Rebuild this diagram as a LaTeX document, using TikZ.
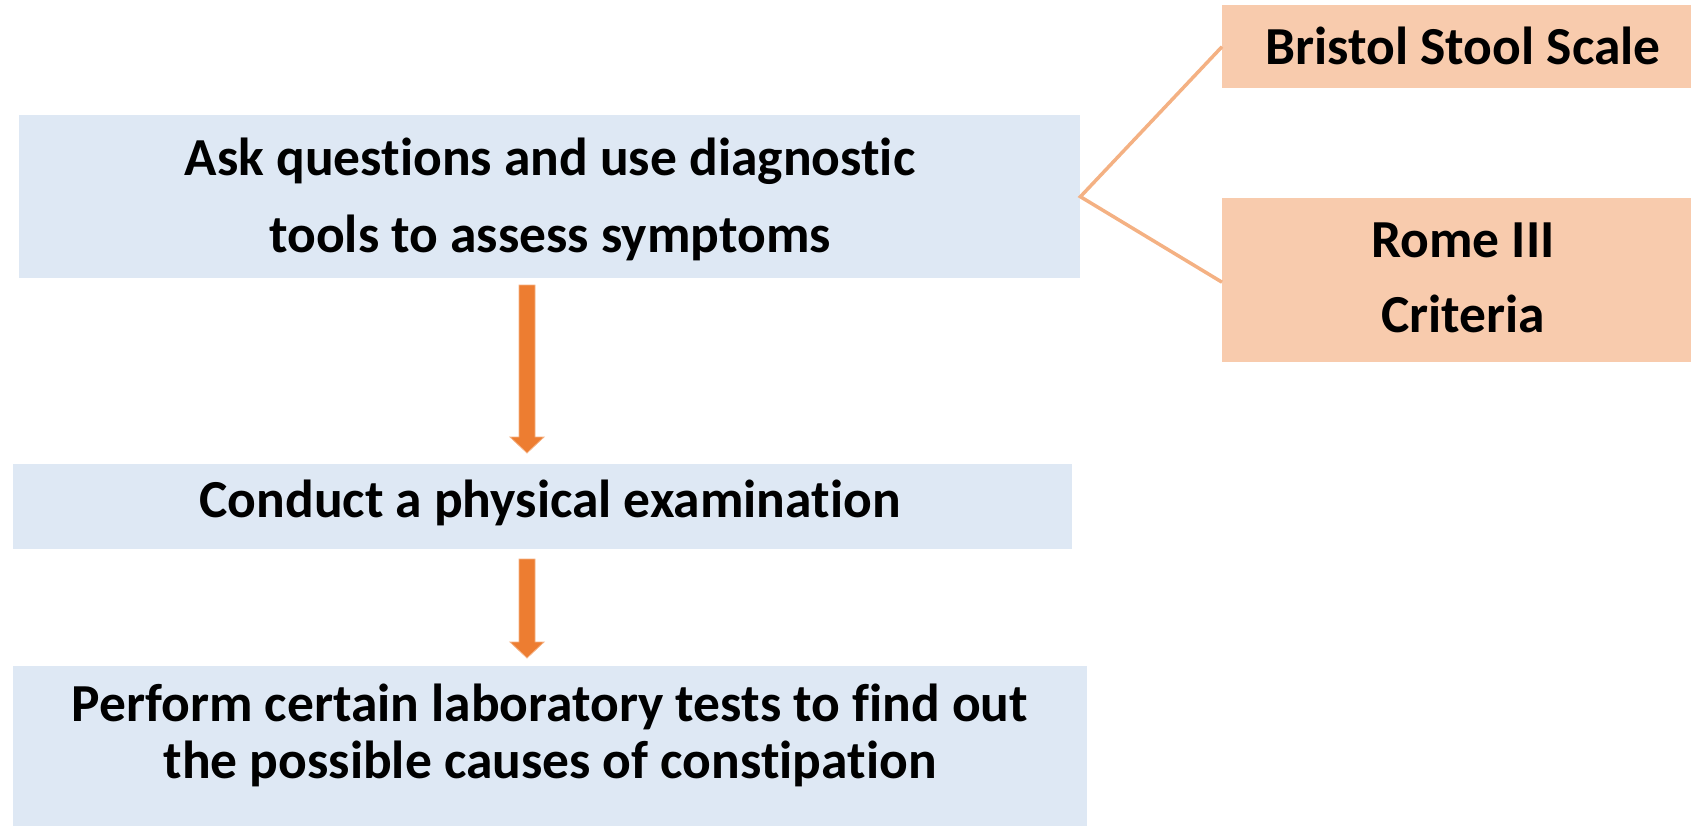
\documentclass[tikz,border=0pt]{standalone}
\usepackage{fontspec}
\setmainfont{Carlito}[Ligatures={NoCommon}]
\definecolor{boxblue}{HTML}{DEE8F4}
\definecolor{boxorange}{HTML}{F8CBAD}
\definecolor{arroworange}{HTML}{ED7D31}
\definecolor{lineorange}{HTML}{F4B183}
\tikzset{
  bluebox/.style={fill=boxblue, draw=none, inner sep=0pt},
  orangebox/.style={fill=boxorange, draw=none, inner sep=0pt},
  label/.style={font=\fontsize{53.5}{73}\selectfont\bfseries, anchor=base, inner sep=0pt, align=center},
  connector/.style={draw=lineorange, line width=3.5pt},
  blockarrow/.style={fill=arroworange, draw=lineorange, line width=0.8pt, line join=miter}
}
\begin{document}
\begin{tikzpicture}[x=1pt,y=-1pt]
\useasboundingbox (0,0) rectangle (1691,825);
% boxes
\node[bluebox, minimum width=1061pt, minimum height=163pt, anchor=north west] (ask) at (19,115) {};
\node[bluebox, minimum width=1059pt, minimum height=85pt, anchor=north west] (exam) at (13,464) {};
\node[bluebox, minimum width=1074pt, minimum height=160pt, anchor=north west] (lab) at (13,666) {};
\node[orangebox, minimum width=469pt, minimum height=83pt, anchor=north west] (bristol) at (1222,5) {};
\node[orangebox, minimum width=469pt, minimum height=164pt, anchor=north west] (rome) at (1222,198) {};
% texts
\node[label] (t1a) at (550,175) {Ask questions and use diagnostic};
\node[label] (t1b) at (550,252) {tools to assess symptoms};
\node[label] (t2) at (550,517) {Conduct a physical examination};
\node[label] (t3a) at (550,721) {Perform certain laboratory tests to find out};
\node[label] (t3b) at (550,778) {the possible causes of constipation};
\node[label] (t4) at (1463,64) {Bristol Stool Scale};
\node[label] (t5a) at (1463,257) {Rome III};
\node[label] (t5b) at (1463,332) {Criteria};
% connectors
\coordinate (fork) at (ask.east);
\draw[connector, line join=miter] (bristol.west) -- (fork) -- ([yshift=-2pt]rome.west);
% block arrows
\coordinate (a1top) at (527,285);
\coordinate (a1tip) at (527,453);
\coordinate (a2top) at (527,559);
\coordinate (a2tip) at (527,658);
\fill[blockarrow] ([xshift=-8pt]a1top) -- ([xshift=8pt]a1top) -- ([xshift=8pt,yshift=16pt]a1tip) -- ([xshift=17pt,yshift=16pt]a1tip) -- (a1tip) -- ([xshift=-17pt,yshift=16pt]a1tip) -- ([xshift=-8pt,yshift=16pt]a1tip) -- cycle;
\fill[blockarrow] ([xshift=-8pt]a2top) -- ([xshift=8pt]a2top) -- ([xshift=8pt,yshift=16pt]a2tip) -- ([xshift=17pt,yshift=16pt]a2tip) -- (a2tip) -- ([xshift=-17pt,yshift=16pt]a2tip) -- ([xshift=-8pt,yshift=16pt]a2tip) -- cycle;
\end{tikzpicture}
\end{document}
